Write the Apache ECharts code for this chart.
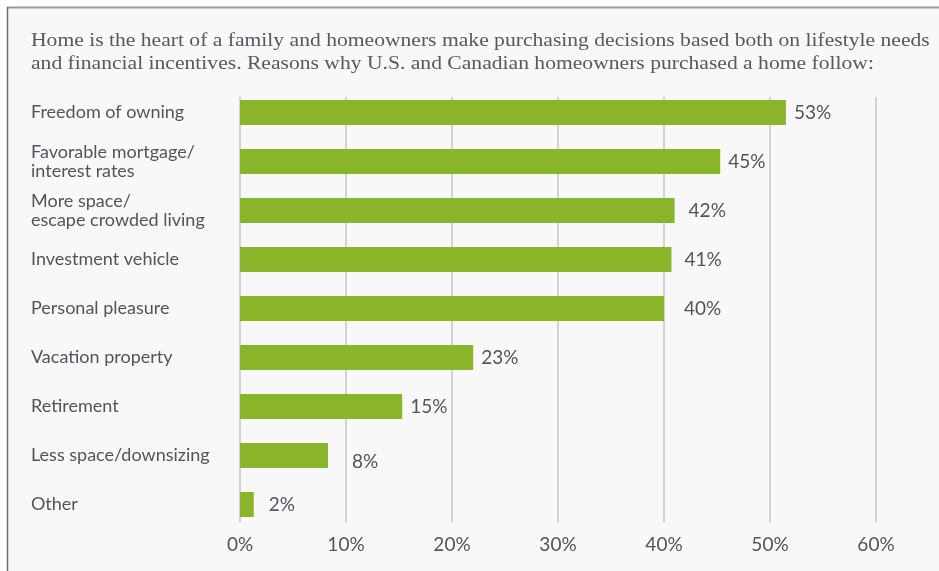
<!DOCTYPE html>
<html>
<head>
<meta charset="utf-8">
<script src="https://cdn.jsdelivr.net/npm/echarts@6/dist/echarts.min.js"></script>
<style>html,body{margin:0;padding:0;background:#fff;}#c{width:939px;height:571px;}</style>
</head>
<body>
<div id="c"></div>
<script>
const titleLines = [
  'Home is the heart of a family and homeowners make purchasing decisions based both on lifestyle needs',
  'and financial incentives. Reasons why U.S. and Canadian homeowners purchased a home follow:'
];
const categories = [
  'Freedom of owning',
  'Favorable mortgage/\ninterest rates',
  'More space/\nescape crowded living',
  'Investment vehicle',
  'Personal pleasure',
  'Vacation property',
  'Retirement',
  'Less space/downsizing',
  'Other'
];
// bar lengths as drawn (percent)
const barValues = [51.5, 45.3, 41.0, 40.7, 40.0, 22.0, 15.3, 8.3, 1.3];
// printed labels
const valueLabels = ['53%', '45%', '42%', '41%', '40%', '23%', '15%', '8%', '2%'];
const xTicks = [0, 10, 20, 30, 40, 50, 60];

const chart = echarts.init(document.getElementById('c'), null, {renderer: 'canvas'});
const textColor = '#50555c';
const font = 'Lato';
// layout nudges for the printed labels [dx gap, dy]
const labelGap = [8, 8, 14, 13, 20, 8, 8, 24, 15];
const labelDy = [0, 0, 0, 0, 0, 0, 0, 6, 0];

const option = {
  backgroundColor: '#ffffff',
  animation: false,
  graphic: [
    {type: 'rect', z: -10, shape: {x: 7, y: 7, width: 1000, height: 1000}, style: {fill: '#f8f8f8'}},
    {type: 'line', z: 10, shape: {x1: 7, y1: 7.5, x2: 939, y2: 7.5}, style: {stroke: '#9a9a9a', lineWidth: 2}},
    {type: 'line', z: 10, shape: {x1: 7.5, y1: 7, x2: 7.5, y2: 571}, style: {stroke: '#6e6e6e', lineWidth: 1.5}},
    {type: 'text', x: 31, y: 30, scaleX: 1.137, style: {text: titleLines.join('\n'), font: '19px "Liberation Serif"', fill: '#555a60', lineHeight: 22.5, verticalAlign: 'top', align: 'left'}}
  ],
  grid: [
    {left: 240, width: 636, top: 97, height: 425},
    {left: 240, width: 636, top: 88, height: 441}
  ],
  xAxis: [
    {
      gridIndex: 0, type: 'value', min: 0, max: 60, interval: 10,
      axisLine: {show: false}, axisTick: {show: false},
      splitLine: {lineStyle: {color: '#c4c8c8', width: 1.5}},
      axisLabel: {formatter: v => v + '%', color: textColor, fontFamily: font, fontSize: 19, margin: 13}
    },
    {
      gridIndex: 1, type: 'value', min: 0, max: 60, interval: 10, show: false
    }
  ],
  yAxis: [
    {gridIndex: 0, type: 'category', data: categories, inverse: true, show: false},
    {
      gridIndex: 1, type: 'category', data: categories, inverse: true,
      axisLine: {show: false}, axisTick: {show: false},
      axisLabel: {align: 'left', margin: 209, color: textColor, fontFamily: font, fontSize: 18, lineHeight: 19}
    }
  ],
  series: [{
    type: 'bar', xAxisIndex: 1, yAxisIndex: 1,
    barWidth: 25,
    itemStyle: {color: '#8ab42a'},
    data: barValues.map((v, i) => ({
      value: v,
      label: {
        show: true, position: 'right', distance: labelGap[i], offset: [0, labelDy[i]],
        formatter: valueLabels[i], color: textColor, fontFamily: font, fontSize: 19
      }
    }))
  }]
};
chart.setOption(option);
</script>
</body>
</html>
